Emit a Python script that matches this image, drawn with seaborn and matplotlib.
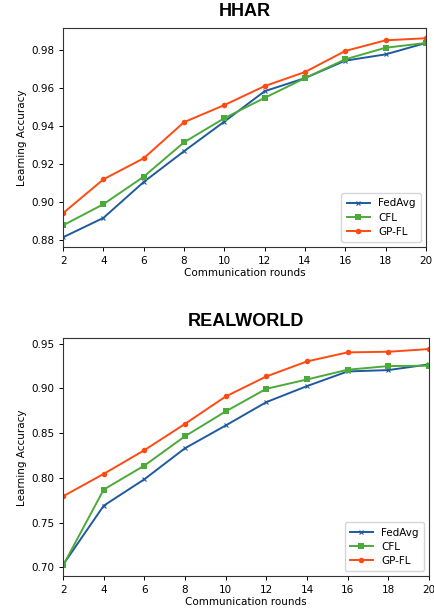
import matplotlib
matplotlib.use("Agg")
import matplotlib.pyplot as plt
import pandas as pd
import seaborn as sns

rounds = [2, 4, 6, 8, 10, 12, 14, 16, 18, 20]
methods = ["FedAvg", "CFL", "GP-FL"]

hhar_fedavg = [0.8814, 0.8916, 0.9105, 0.9267, 0.9423, 0.9583, 0.9652, 0.9744, 0.9777, 0.9837]
hhar_cfl = [0.8877, 0.8988, 0.9133, 0.9314, 0.9441, 0.9548, 0.9652, 0.9751, 0.9812, 0.9837]
hhar_gpfl = [0.8941, 0.9119, 0.9230, 0.9420, 0.9510, 0.9610, 0.9684, 0.9795, 0.9851, 0.9862]

rw_fedavg = [0.7030, 0.7690, 0.7985, 0.8332, 0.8586, 0.8847, 0.9026, 0.9190, 0.9205, 0.9269]
rw_cfl = [0.7022, 0.7870, 0.8138, 0.8466, 0.8743, 0.8996, 0.9100, 0.9209, 0.9250, 0.9254]
rw_gpfl = [0.7795, 0.8045, 0.8310, 0.8604, 0.8910, 0.9134, 0.9302, 0.9403, 0.9410, 0.9440]

colors = {"FedAvg": "#1f5a9e", "CFL": "#4caa3a", "GP-FL": "#ff4a12"}
markers = {"FedAvg": "x", "CFL": "s", "GP-FL": "o"}


def to_long(series):
    rows = []
    for name, vals in zip(methods, series):
        for r, v in zip(rounds, vals):
            rows.append({"round": r, "acc": v, "method": name})
    return pd.DataFrame(rows)


fig = plt.figure(figsize=(4.35, 6.15), dpi=100)
ax_top = fig.add_axes([0.145, 0.598, 0.834, 0.356])
ax_bot = fig.add_axes([0.145, 0.063, 0.841, 0.387])

panels = [
    (ax_top, "HHAR", [hhar_fedavg, hhar_cfl, hhar_gpfl], [0.88, 0.90, 0.92, 0.94, 0.96, 0.98]),
    (ax_bot, "REALWORLD", [rw_fedavg, rw_cfl, rw_gpfl], [0.70, 0.75, 0.80, 0.85, 0.90, 0.95]),
]

for ax, title, series, yticks in panels:
    df = to_long(series)
    for name in methods:
        sub = df[df["method"] == name]
        sns.lineplot(data=sub, x="round", y="acc", ax=ax, color=colors[name],
                     marker=markers[name],
                     markersize=3 if name == "FedAvg" else 4,
                     markeredgewidth=0.8 if name == "FedAvg" else 0,
                     markeredgecolor=colors[name],
                     linewidth=1.4, label=name)
    ax.set_xlim(2, 20)
    ax.margins(y=0.05)
    ax.set_xticks(rounds)
    ax.set_yticks(yticks)
    ax.set_yticklabels([f"{t:.2f}" for t in yticks])
    ax.tick_params(labelsize=7.5, length=3, width=0.7)
    for s in ax.spines.values():
        s.set_linewidth(0.8)
        s.set_color("#333333")
    ax.set_xlabel("Communication rounds", fontsize=7.5, labelpad=1)
    ax.set_ylabel("Learning Accuracy", fontsize=7.5, labelpad=3)
    ax.set_title(title, fontsize=13, fontweight="bold", family="Liberation Sans", pad=9)
    ax.legend(loc="lower right", fontsize=7.5, frameon=True, handlelength=2.2,
              borderpad=0.5, labelspacing=0.4)

fig.savefig("out.png", dpi=100)
